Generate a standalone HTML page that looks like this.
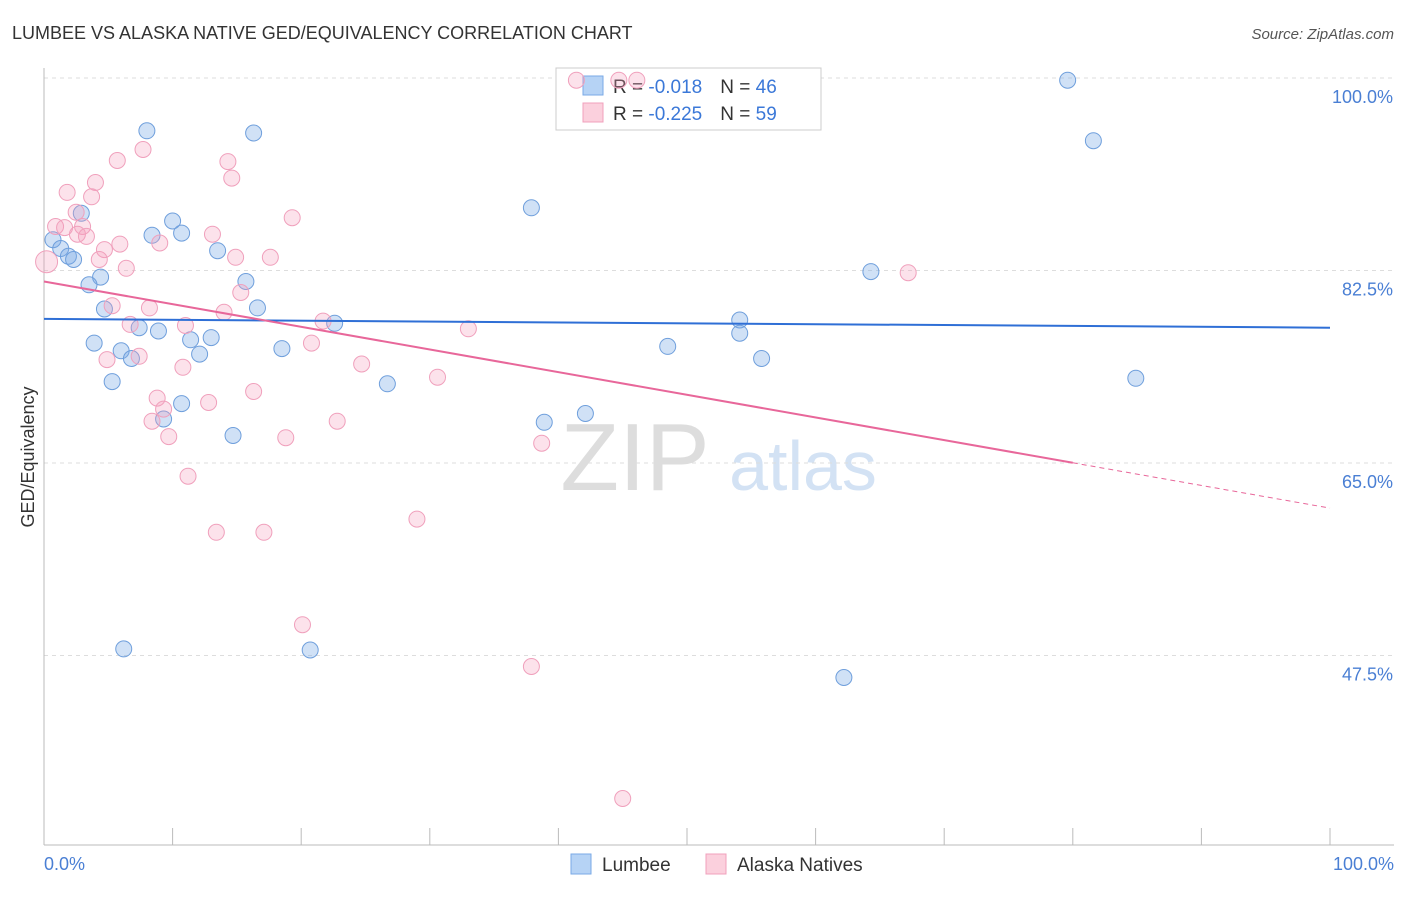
<!DOCTYPE html>
<html><head><meta charset="utf-8">
<style>
body{margin:0;background:#fff;font-family:"Liberation Sans",sans-serif;}
svg text{font-family:"Liberation Sans",sans-serif;}
</style></head>
<body>
<svg id="chart" width="1406" height="892" xmlns="http://www.w3.org/2000/svg">
<text x="12" y="39" font-size="18" fill="#333">LUMBEE VS ALASKA NATIVE GED/EQUIVALENCY CORRELATION CHART</text>
<text x="1394" y="39" font-size="15" fill="#555" text-anchor="end" font-style="italic">Source: ZipAtlas.com</text>
<g>
<text x="635" y="490" font-size="96" fill="#ddd" text-anchor="middle" font-family="Liberation Serif,serif">ZIP</text>
<text x="803" y="490" font-size="70" fill="#d3e2f4" text-anchor="middle">atlas</text>
</g>
<g id="grid"></g>
<g id="axes"></g>
<g>
<rect x="556" y="68" width="265" height="62" fill="#fff" stroke="#ccc"/>
<rect x="583" y="76" width="20" height="19" fill="#b6d3f5" stroke="#7aaae6"/>
<rect x="583" y="103" width="20" height="19" fill="#fbd0dd" stroke="#f0a0bc"/>
<text x="613" y="93" font-size="19" fill="#333">R = <tspan fill="#3b78d8">-0.018</tspan><tspan dx="18">N = </tspan><tspan fill="#3b78d8">46</tspan></text>
<text x="613" y="120" font-size="19" fill="#333">R = <tspan fill="#3b78d8">-0.225</tspan><tspan dx="18">N = </tspan><tspan fill="#3b78d8">59</tspan></text>
</g>
<g id="marks"></g>
<text transform="translate(34,457) rotate(-90)" font-size="18" fill="#333" text-anchor="middle">GED/Equivalency</text>
<text x="44" y="870" font-size="18" fill="#4a7fd4">0.0%</text>
<text x="1394" y="870" font-size="18" fill="#4a7fd4" text-anchor="end">100.0%</text>
<g>
<rect x="571" y="854" width="20" height="20" fill="#b6d3f5" stroke="#7aaae6"/>
<text x="602" y="871" font-size="19" fill="#333">Lumbee</text>
<rect x="706" y="854" width="20" height="20" fill="#fbd0dd" stroke="#f0a0bc"/>
<text x="737" y="871" font-size="19" fill="#333">Alaska Natives</text>
</g>
</svg>
<script>
const yTicks=[100,82.5,65,47.5];
const yTickLabels=["100.0%","82.5%","65.0%","47.5%"];
const xTicks=[0,10,20,30,40,50,60,70,80,90,100];
const lumbeeX=[79.6,8.0,16.3,81.6,37.9,2.9,10.0,8.4,10.7,0.7,1.3,13.5,1.9,2.3,64.3,4.4,3.5,15.7,4.7,16.6,54.1,22.6,7.4,8.9,54.1,11.4,13.0,3.9,48.5,6.0,18.5,12.1,6.8,55.8,84.9,5.3,26.7,10.7,42.1,9.3,38.9,14.7,6.2,20.7,62.2];
const lumbeeY=[99.8,95.2,95.0,94.3,88.2,87.7,87.0,85.7,85.9,85.3,84.5,84.3,83.8,83.5,82.4,81.9,81.2,81.5,79.0,79.1,78.0,77.7,77.3,77.0,76.8,76.2,76.4,75.9,75.6,75.2,75.4,74.9,74.5,74.5,72.7,72.4,72.2,70.4,69.5,69.0,68.7,67.5,48.1,48.0,45.5];
const alaskaX=[41.4,46.1,44.7,7.7,5.7,14.3,14.6,4.0,1.8,3.7,2.5,19.3,0.9,3.0,1.6,2.6,3.3,13.1,9.0,5.9,4.7,14.9,17.6,4.3,0.2,6.4,67.2,15.3,5.3,8.2,14.0,21.7,6.7,11.0,33.0,20.8,7.4,4.9,24.7,10.8,30.6,16.3,8.8,12.8,9.3,8.4,22.8,9.7,18.8,38.7,11.2,29.0,13.4,17.1,20.1,37.9,45.0];
const alaskaY=[99.8,99.8,99.8,93.5,92.5,92.4,90.9,90.5,89.6,89.2,87.8,87.3,86.5,86.5,86.4,85.8,85.6,85.8,85.0,84.9,84.4,83.7,83.7,83.5,83.3,82.7,82.3,80.5,79.3,79.1,78.7,77.9,77.6,77.5,77.2,75.9,74.7,74.4,74.0,73.7,72.8,71.5,70.9,70.5,69.9,68.8,68.8,67.4,67.3,66.8,63.8,59.9,58.7,58.7,50.3,46.5,34.5];
const lumbeeTrend=[78.1,77.3];
const alaskaTrend=[81.5,60.9];
const alaskaSolidEnd=80;

const X0=44,X1=1330,Y100=78,PXPER=11;
function sx(v){return X0+(X1-X0)*v/100;}
function sy(v){return Y100+(100-v)*PXPER;}
const NS="http://www.w3.org/2000/svg";
function mk(parent,tag,attrs){const e=document.createElementNS(NS,tag);for(const k in attrs)e.setAttribute(k,attrs[k]);document.getElementById(parent).appendChild(e);return e;}

yTicks.forEach((t,i)=>{
 const l=mk('grid','line',{x1:X0,x2:1394,y1:sy(t),y2:sy(t),stroke:'#ddd','stroke-dasharray':'4,4'});
 
 
 const tx=mk('grid','text',{x:1393,y:sy(t)+25,'font-size':18,fill:'#4a7fd4','text-anchor':'end'});
 tx.textContent=yTickLabels[i];
 
 
});
const ax=mk('axes','line',{x1:X0,x2:X0,y1:68,y2:845,stroke:'#bbb'});


const bx=mk('axes','line',{x1:X0,x2:1394,y1:845,y2:845,stroke:'#bbb'});


xTicks.forEach(t=>{
 const l=mk('axes','line',{x1:sx(t),x2:sx(t),y1:828,y2:845,stroke:'#bbb'});
 
 
});

lumbeeX.forEach((x,i)=>{
 const c=mk('marks','circle',{cx:sx(x),cy:sy(lumbeeY[i]),r:8,fill:'rgba(120,170,230,0.35)',stroke:'#6f9fdc','stroke-width':1});
 
 
});
alaskaX.forEach((x,i)=>{
 const c=mk('marks','circle',{cx:sx(x),cy:sy(alaskaY[i]),r:(i==24?11:8),fill:'rgba(245,160,190,0.3)',stroke:'#f0a0bc','stroke-width':1});
 
 
});
const lt=mk('marks','line',{x1:sx(0),y1:sy(lumbeeTrend[0]),x2:sx(100),y2:sy(lumbeeTrend[1]),stroke:'#2f6fd6','stroke-width':2});


const ym=alaskaTrend[0]+(alaskaTrend[1]-alaskaTrend[0])*alaskaSolidEnd/100;
const at=mk('marks','line',{x1:sx(0),y1:sy(alaskaTrend[0]),x2:sx(alaskaSolidEnd),y2:sy(ym),stroke:'#e8679a','stroke-width':2});


const ad=mk('marks','line',{x1:sx(alaskaSolidEnd),y1:sy(ym),x2:sx(100),y2:sy(alaskaTrend[1]),stroke:'#e8679a','stroke-width':1,'stroke-dasharray':'5,4'});


</script>
</body></html>
